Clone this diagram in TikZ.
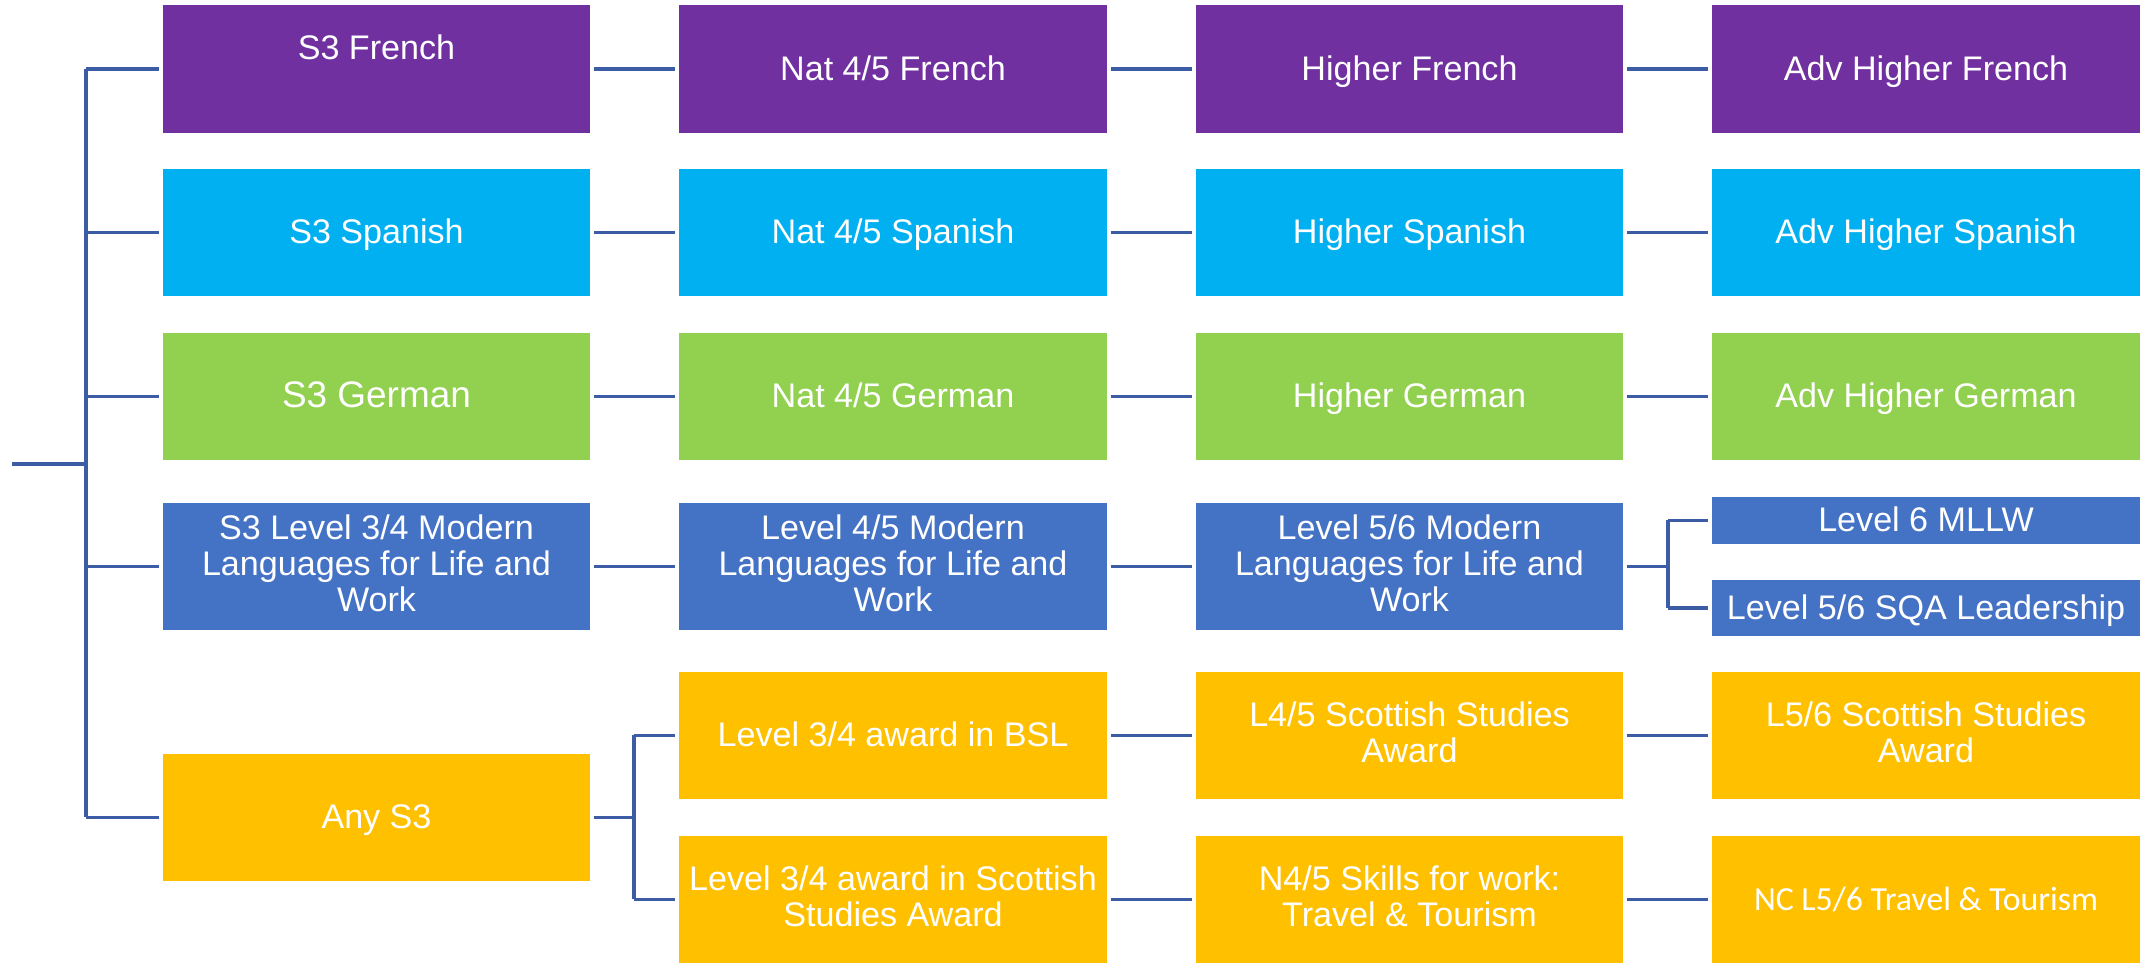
\documentclass[tikz,border=0pt]{standalone}
\usepackage{fontspec}
\setmainfont{Liberation Sans}
\newfontfamily\calfont{Carlito}
\usetikzlibrary{positioning}
\definecolor{frpurple}{HTML}{7030A0}
\definecolor{escyan}{HTML}{00B0F0}
\definecolor{degreen}{HTML}{92D050}
\definecolor{mlblue}{HTML}{4472C4}
\definecolor{anyyellow}{HTML}{FFC000}
\definecolor{linkblue}{RGB}{60,92,165}
\newcommand\coursestrut{\rule[-1.9pt]{0pt}{10.3pt}}
\tikzset{
         course/.style=
          {
           rectangle,inner sep=0pt,
           minimum width=4.27cm,minimum height=1.27cm,
           text=white,align=center,
           font=\fontsize{9.7}{10.3}\selectfont,
           execute at begin node=\coursestrut,
           execute at end node=\coursestrut
          },
         link/.style={draw=linkblue,line width=0.9pt}
        }

\begin{document}
\begin{tikzpicture}[x=0.01cm,y=-0.01cm]
\useasboundingbox(0,0)rectangle(2148,965);
% French
\node[course,fill=frpurple](fr1)at(376.5,69){S3 French\\\mbox{}};
\node[course,fill=frpurple](fr2)at(893,69){Nat 4/5 French};
\node[course,fill=frpurple](fr3)at(1409.5,69){Higher French};
\node[course,fill=frpurple](fr4)at(1926,69){Adv Higher French};
% Spanish
\node[course,fill=escyan](es1)at(376.5,232.5){S3 Spanish};
\node[course,fill=escyan](es2)at(893,232.5){Nat 4/5 Spanish};
\node[course,fill=escyan](es3)at(1409.5,232.5){Higher Spanish};
\node[course,fill=escyan](es4)at(1926,232.5){Adv Higher Spanish};
% German
\node[course,fill=degreen,font=\fontsize{10.5}{11}\selectfont](de1)at(376.5,396.5){S3 German};
\node[course,fill=degreen](de2)at(893,396.5){Nat 4/5 German};
\node[course,fill=degreen](de3)at(1409.5,396.5){Higher German};
\node[course,fill=degreen](de4)at(1926,396.5){Adv Higher German};
% Modern Languages for Life and Work
\node[course,fill=mlblue](ml1)at(376.5,566.5){S3 Level 3/4 Modern\\Languages for Life and\\Work};
\node[course,fill=mlblue](ml2)at(893,566.5){Level 4/5 Modern\\Languages for Life and\\Work};
\node[course,fill=mlblue](ml3)at(1409.5,566.5){Level 5/6 Modern\\Languages for Life and\\Work};
\node[course,fill=mlblue,minimum height=0.47cm](ml4a)at(1926,520.5){Level 6 MLLW};
\node[course,fill=mlblue,minimum height=0.56cm](ml4b)at(1926,608){Level 5/6 SQA Leadership};
% Any S3
\node[course,fill=anyyellow](any)at(376.5,817.5){Any S3};
\node[course,fill=anyyellow](bsl)at(893,735.5){Level 3/4 award in BSL};
\node[course,fill=anyyellow](ss)at(893,899.5){Level 3/4 award in Scottish\\Studies Award};
\node[course,fill=anyyellow](ss2)at(1409.5,735.5){L4/5 Scottish Studies\\Award};
\node[course,fill=anyyellow](tt)at(1409.5,899.5){N4/5 Skills for work:\\Travel \& Tourism};
\node[course,fill=anyyellow](ss3)at(1926,735.5){L5/6 Scottish Studies\\Award};
\node[course,fill=anyyellow,font=\calfont\fontsize{9.6}{10}\selectfont](tt2)at(1926,899.5){NC L5/6 Travel \& Tourism};
% links
\coordinate(root)at(12,464);
\coordinate(trunk)at(86,464);
\draw[link](root)--(trunk);
\draw[link](trunk|-fr1)--(trunk|-any);
\foreach \n in {fr1,es1,de1,ml1,any}
  \draw[link,shorten >=1pt](trunk|-\n)--(\n.west);
\foreach \r in {fr,es,de}
 {
  \draw[link,shorten <=1pt,shorten >=1pt](\r1.east)--(\r2.west);
  \draw[link,shorten <=1pt,shorten >=1pt](\r2.east)--(\r3.west);
  \draw[link,shorten <=1pt,shorten >=1pt](\r3.east)--(\r4.west);
 }
\draw[link,shorten <=1pt,shorten >=1pt](ml1.east)--(ml2.west);
\draw[link,shorten <=1pt,shorten >=1pt](ml2.east)--(ml3.west);
\coordinate(mlfork)at(1668,566.5);
\draw[link,shorten <=1pt](ml3.east)--(mlfork);
\draw[link](mlfork|-ml4a)--(mlfork|-ml4b);
\foreach \n in {ml4a,ml4b}
  \draw[link,shorten >=1pt](mlfork|-\n)--(\n.west);
\coordinate(anyfork)at(634,817.5);
\draw[link,shorten <=1pt](any.east)--(anyfork);
\draw[link](anyfork|-bsl)--(anyfork|-ss);
\foreach \n in {bsl,ss}
  \draw[link,shorten >=1pt](anyfork|-\n)--(\n.west);
\draw[link,shorten <=1pt,shorten >=1pt](bsl.east)--(ss2.west);
\draw[link,shorten <=1pt,shorten >=1pt](ss2.east)--(ss3.west);
\draw[link,shorten <=1pt,shorten >=1pt](ss.east)--(tt.west);
\draw[link,shorten <=1pt,shorten >=1pt](tt.east)--(tt2.west);
\end{tikzpicture}
\end{document}
